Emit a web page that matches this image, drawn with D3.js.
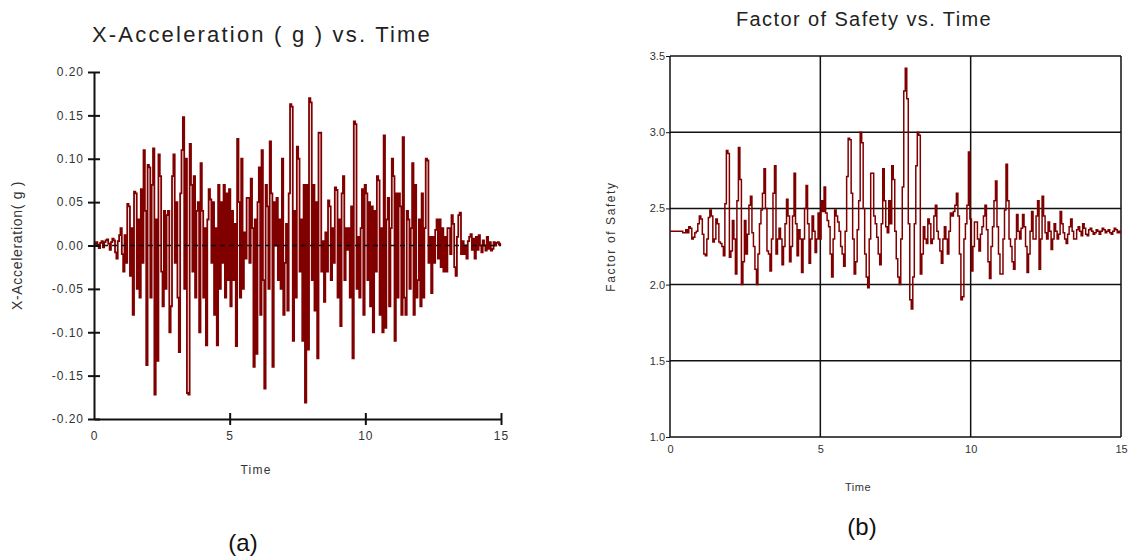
<!DOCTYPE html>
<html>
<head>
<meta charset="utf-8">
<script src="https://cdn.jsdelivr.net/npm/d3@7"></script>
<style>
  body { margin: 0; background: #fff; }
  svg { display: block; font-family: "Liberation Sans", Arial, sans-serif; }
</style>
</head>
<body>
<script>
// sample step (s) for both records
const dt = 0.05;

// (a) X-acceleration in g, one value every 0.05 s from 0 to 15 s
const accel = [
  0, 0.002, 0.004, 0.001, -0.003, 0.003, 0.005, -0.002, 0.004, 0.006, 0.007, 0.002, -0.005, 0.004, 0.008, 0.006, -0.008, -0.015, 0.005, 0.012,
  0.02, -0.01, -0.03, 0.012, -0.02, 0.048, 0.045, -0.035, 0.02, -0.08, 0.062, 0.06, -0.05, 0.03, -0.06, 0.065, -0.02, 0.11, 0.04, -0.138,
  0.093, 0.09, -0.06, 0.07, 0.112, -0.172, 0.03, -0.133, 0.105, 0.08, -0.03, -0.07, 0.04, -0.05, 0.035, 0.04, -0.1, -0.07, 0.08, 0.105,
  -0.02, 0.05, -0.06, -0.123, 0.06, 0.11, 0.148, -0.05, 0.1, -0.17, -0.172, 0.117, 0.07, -0.03, 0.08, -0.06, 0.04, 0.05, -0.1, 0.095,
  0.04, -0.06, 0.02, -0.115, 0.03, 0.065, 0.053, -0.02, 0.05, -0.08, 0.02, -0.115, 0.07, -0.05, 0.05, -0.02, 0.07, -0.06, 0.06, -0.04,
  0.065, -0.07, 0.04, -0.04, 0.025, -0.116, 0.123, 0.05, -0.06, 0.1, -0.05, 0.015, -0.015, 0.055, 0.055, -0.02, 0.077, 0.02, -0.14, 0.03,
  -0.125, 0.05, 0.09, -0.08, 0.11, -0.04, -0.165, 0.07, 0.045, -0.05, 0.12, 0.06, -0.14, 0.05, 0.0, 0.055, -0.04, 0.03, -0.05, 0.1,
  -0.08, -0.02, 0.025, -0.075, 0.06, 0.163, 0.16, -0.11, 0.04, -0.06, 0.114, 0.1, -0.03, 0.03, -0.11, 0.07, -0.181, 0.07, -0.12, 0.17,
  0.165, -0.04, 0.07, -0.075, 0.05, -0.13, 0.13, 0.13, -0.03, 0.005, -0.065, 0.015, -0.03, 0.052, 0.045, -0.04, 0.02, -0.02, 0.067, 0.064,
  -0.06, 0.03, -0.093, 0.06, 0.08, -0.04, 0.02, -0.005, 0.02, -0.06, 0.045, -0.13, 0.143, 0.14, -0.05, 0.01, -0.06, 0.02, 0.065, -0.08,
  0.07, 0.06, -0.04, 0.05, -0.07, 0.045, -0.1, 0.04, -0.03, 0.08, 0.075, -0.08, 0.02, -0.1, 0.127, -0.095, 0.03, 0.055, -0.07, 0.02,
  0.1, 0.08, -0.11, 0.06, -0.06, 0.06, 0.045, -0.08, 0.125, -0.06, -0.08, 0.04, 0.03, -0.05, 0.02, 0.095, -0.08, 0.07, -0.06, -0.04,
  0.03, -0.07, 0.06, -0.06, 0.02, 0.1, 0.098, -0.02, 0.01, -0.055, 0.01, -0.02, 0.018, 0.03, -0.015, 0.03, -0.025, 0.02, -0.03, 0.01,
  -0.03, 0.02, 0.02, -0.01, 0.035, 0.025, -0.025, -0.035, 0.01, 0.035, 0.038, -0.01, 0.005, -0.01, 0.0, -0.015, 0.005, 0.01, 0.013, -0.005,
  0.008, -0.015, 0.01, -0.005, 0.012, 0.0, -0.008, 0.006, 0.0, -0.006, 0.01, -0.004, 0.004, -0.006, -0.004, 0.004, 0.0, 0.003, 0.004, 0.001,
  0.002
];

// (b) factor of safety, same time base
const fos = [
  2.35, 2.35, 2.35, 2.35, 2.35, 2.35, 2.35, 2.35, 2.35, 2.34, 2.34, 2.36, 2.34, 2.38, 2.37, 2.30, 2.31, 2.34, 2.35, 2.40,
  2.45, 2.43, 2.33, 2.20, 2.19, 2.30, 2.44, 2.49, 2.45, 2.28, 2.30, 2.43, 2.40, 2.28, 2.27, 2.25, 2.19, 2.53, 2.88, 2.86,
  2.18, 2.22, 2.42, 2.30, 2.07, 2.55, 2.90, 2.69, 2.00, 2.15, 2.42, 2.20, 2.33, 2.52, 2.58, 2.34, 2.25, 2.10, 2.00, 2.20,
  2.40, 2.49, 2.60, 2.76, 2.50, 2.22, 2.20, 2.09, 2.30, 2.60, 2.78, 2.20, 2.30, 2.37, 2.30, 2.13, 2.25, 2.40, 2.56, 2.45,
  2.15, 2.25, 2.45, 2.73, 2.40, 2.19, 2.36, 2.30, 2.08, 2.30, 2.50, 2.65, 2.40, 2.14, 2.30, 2.45, 2.35, 2.21, 2.30, 2.47,
  2.30, 2.55, 2.48, 2.64, 2.47, 2.42, 2.38, 2.20, 2.05, 2.30, 2.49, 2.45, 2.41, 2.35, 2.25, 2.20, 2.12, 2.35, 2.71, 2.96,
  2.95, 2.60, 2.30, 2.07, 2.15, 2.36, 2.55, 3.00, 2.93, 2.50, 2.20, 2.05, 1.98, 2.30, 2.73, 2.73, 2.45, 2.40, 2.31, 2.20,
  2.13, 2.40, 2.76, 2.55, 2.38, 2.34, 2.55, 2.40, 2.78, 2.69, 2.35, 2.17, 2.05, 2.00, 2.30, 2.64, 3.27, 3.42, 3.22, 2.40,
  1.90, 1.84, 2.05, 2.40, 2.78, 3.00, 2.98, 2.07, 2.20, 2.38, 2.30, 2.27, 2.43, 2.40, 2.27, 2.30, 2.45, 2.52, 2.35, 2.30,
  2.22, 2.14, 2.30, 2.38, 2.30, 2.20, 2.35, 2.47, 2.45, 2.48, 2.52, 2.60, 2.45, 2.20, 1.90, 1.92, 2.30, 2.40, 2.52, 2.87,
  2.43, 2.09, 2.25, 2.41, 2.41, 2.30, 2.22, 2.33, 2.38, 2.45, 2.52, 2.36, 2.15, 2.04, 2.25, 2.38, 2.55, 2.68, 2.38, 2.20,
  2.07, 2.07, 2.30, 2.49, 2.79, 2.55, 2.30, 2.25, 2.15, 2.10, 2.30, 2.46, 2.35, 2.30, 2.37, 2.46, 2.38, 2.25, 2.08, 2.20,
  2.35, 2.48, 2.30, 2.30, 2.45, 2.55, 2.10, 2.30, 2.58, 2.45, 2.34, 2.30, 2.41, 2.35, 2.23, 2.30, 2.40, 2.35, 2.30, 2.33,
  2.48, 2.40, 2.34, 2.30, 2.27, 2.33, 2.38, 2.43, 2.35, 2.30, 2.30, 2.36, 2.38, 2.35, 2.32, 2.40, 2.37, 2.33, 2.32, 2.36,
  2.37, 2.35, 2.33, 2.34, 2.36, 2.35, 2.33, 2.35, 2.37, 2.36, 2.34, 2.35, 2.36, 2.34, 2.33, 2.35, 2.37, 2.36, 2.34, 2.35,
  2.34
];

const timeTicks = [0, 5, 10, 15];
const accelTicks = [-0.2, -0.15, -0.1, -0.05, 0, 0.05, 0.1, 0.15, 0.2];
const fosTicks = [1.0, 1.5, 2.0, 2.5, 3.0, 3.5];

const lineColor = "#800000";
const textColor = "#222";

// plain hyphen for negatives, like the original plot
const fmt2 = v => d3.format(".2f")(v).replace("\u2212", "-");
const fmt1 = v => d3.format(".1f")(v);

const svg = d3.select("body").append("svg")
  .attr("width", 1133)
  .attr("height", 558);

// ---------- (a) acceleration ----------
const a = { left: 94, right: 501, top: 72, bottom: 419 };
const xA = d3.scaleLinear().domain([0, 15]).range([a.left, a.right]);
const yA = d3.scaleLinear().domain([-0.2, 0.2]).range([a.bottom, a.top]);

const lineA = d3.line()
  .x((d, i) => xA(i * dt))
  .y(d => yA(d))
  .curve(d3.curveStep);

svg.append("path")
  .attr("d", lineA(accel))
  .attr("fill", "none")
  .attr("stroke", lineColor)
  .attr("stroke-width", 1.8);

// zero line drawn over the record
svg.append("line")
  .attr("x1", xA(0)).attr("x2", xA(15))
  .attr("y1", yA(0)).attr("y2", yA(0))
  .attr("stroke", "#111")
  .attr("stroke-width", 1.5)
  .attr("stroke-dasharray", "5,4");

const gyA = svg.append("g")
  .attr("transform", `translate(${a.left},0)`)
  .call(d3.axisLeft(yA).tickValues(accelTicks).tickFormat(fmt2).tickSize(6).tickPadding(4).tickSizeOuter(0));
gyA.selectAll(".tick line").attr("x1", 6);

const gxA = svg.append("g")
  .attr("transform", `translate(0,${a.bottom})`)
  .call(d3.axisBottom(xA).tickValues(timeTicks).tickSize(6).tickPadding(6).tickSizeOuter(0));
gxA.selectAll(".tick line").attr("y1", -6).filter(d => d === 0).remove();

[gyA, gxA].forEach(g => {
  g.select(".domain").attr("stroke", "#111").attr("stroke-width", 2);
  g.selectAll(".tick line").attr("stroke", "#111").attr("stroke-width", 2);
  g.selectAll(".tick text")
    .attr("fill", "#333")
    .attr("font-size", 12)
    .attr("letter-spacing", "0.08em")
    .attr("font-family", "Liberation Sans, Arial, sans-serif");
});

svg.append("text")
  .attr("x", 262).attr("y", 42)
  .attr("text-anchor", "middle")
  .attr("font-size", 22)
  .attr("letter-spacing", "0.1em")
  .attr("fill", textColor)
  .text("X-Acceleration ( g ) vs. Time");

svg.append("text")
  .attr("transform", `translate(22,${(a.top + a.bottom) / 2}) rotate(-90)`)
  .attr("text-anchor", "middle")
  .attr("font-size", 14)
  .attr("letter-spacing", "0.05em")
  .attr("fill", "#333")
  .text("X-Acceleration( g )");

svg.append("text")
  .attr("x", 256).attr("y", 474)
  .attr("text-anchor", "middle")
  .attr("font-size", 12)
  .attr("letter-spacing", "0.1em")
  .attr("fill", "#333")
  .text("Time");

svg.append("text")
  .attr("x", 243).attr("y", 551)
  .attr("text-anchor", "middle")
  .attr("font-size", 24)
  .attr("fill", "#111")
  .text("(a)");

// ---------- (b) factor of safety ----------
const b = { left: 670, right: 1121, top: 56, bottom: 437 };
const xB = d3.scaleLinear().domain([0, 15]).range([b.left, b.right]);
const yB = d3.scaleLinear().domain([1.0, 3.5]).range([b.bottom, b.top]);

// grid
svg.append("g")
  .selectAll("line")
  .data(fosTicks)
  .join("line")
  .attr("x1", b.left).attr("x2", b.right)
  .attr("y1", d => yB(d)).attr("y2", d => yB(d))
  .attr("stroke", "#111").attr("stroke-width", 1.5);

svg.append("g")
  .selectAll("line")
  .data(timeTicks)
  .join("line")
  .attr("x1", d => xB(d)).attr("x2", d => xB(d))
  .attr("y1", b.top).attr("y2", b.bottom)
  .attr("stroke", "#111").attr("stroke-width", 1.5);

const lineB = d3.line()
  .x((d, i) => xB(i * dt))
  .y(d => yB(d))
  .curve(d3.curveStep);

svg.append("path")
  .attr("d", lineB(fos))
  .attr("fill", "none")
  .attr("stroke", lineColor)
  .attr("stroke-width", 1.5);

const gyB = svg.append("g")
  .attr("transform", `translate(${b.left},0)`)
  .call(d3.axisLeft(yB).tickValues(fosTicks).tickFormat(fmt1).tickSize(4).tickPadding(1).tickSizeOuter(0));

const gxB = svg.append("g")
  .attr("transform", `translate(0,${b.bottom})`)
  .call(d3.axisBottom(xB).tickValues(timeTicks).tickSize(0).tickPadding(8).tickSizeOuter(0));

[gyB, gxB].forEach(g => {
  g.select(".domain").remove();
  g.selectAll(".tick line").attr("stroke", "#111").attr("stroke-width", 1);
  g.selectAll(".tick text")
    .attr("fill", "#333")
    .attr("font-size", 11)
    .attr("font-family", "Liberation Sans, Arial, sans-serif");
});

svg.append("text")
  .attr("x", 864).attr("y", 26)
  .attr("text-anchor", "middle")
  .attr("font-size", 20)
  .attr("letter-spacing", "1.4px")
  .attr("fill", textColor)
  .text("Factor of Safety vs. Time");

svg.append("text")
  .attr("transform", `translate(615,${(b.top + b.bottom) / 2 - 10}) rotate(-90)`)
  .attr("text-anchor", "middle")
  .attr("font-size", 12)
  .attr("letter-spacing", "1.6px")
  .attr("fill", "#333")
  .text("Factor of Safety");

svg.append("text")
  .attr("x", 858).attr("y", 491)
  .attr("text-anchor", "middle")
  .attr("font-size", 11)
  .attr("letter-spacing", "0.5px")
  .attr("fill", "#333")
  .text("Time");

svg.append("text")
  .attr("x", 862).attr("y", 535)
  .attr("text-anchor", "middle")
  .attr("font-size", 24)
  .attr("fill", "#111")
  .text("(b)");
</script>
</body>
</html>
